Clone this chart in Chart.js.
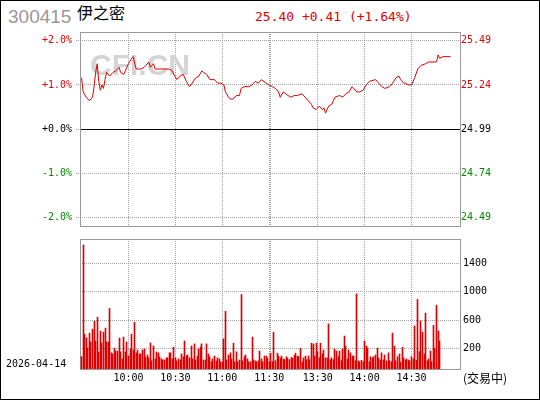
<!DOCTYPE html>
<html>
<head>
<meta charset="utf-8">
<script src="https://cdn.jsdelivr.net/npm/chart.js@4.4.1/dist/chart.umd.min.js"></script>
<style>
  body { margin: 0; background: #fff; }
  #wrap { position: relative; width: 540px; height: 400px; overflow: hidden; background: #fff; }
  #wrap canvas { position: absolute; left: 0; }
  .txt { position: absolute; white-space: nowrap; }
  #frame { position: absolute; left: 0; top: 0; width: 540px; height: 400px; box-sizing: border-box; border: 1px solid #000; pointer-events: none; }
</style>
</head>
<body>
<div id="wrap">
  <div class="txt" style="left:8px;top:7px;font:19px/19px 'Liberation Sans';color:#999">300415</div>
  <div class="txt" style="left:77px;top:4px;font:16px/16px 'Noto Sans CJK SC';color:#000">伊之密</div>
  <div class="txt" style="left:255px;top:10px;font:13px/13px 'DejaVu Sans Mono';color:#e00000">25.40 +0.41 (+1.64%)</div>
  <canvas id="priceChart" width="540" height="236" style="top:0"></canvas>
  <canvas id="volChart" width="540" height="170" style="top:230px"></canvas>
  <div class="txt" style="left:6px;top:359px;font:10px/10px 'DejaVu Sans Mono';color:#000">2026-04-14</div>
  <div class="txt" style="left:463px;top:372px;font:12px/12px 'Noto Sans CJK SC';color:#000">(交易中)</div>
  <div id="frame"></div>
</div>
<script>
// previous close and intraday data (x = minute index from 9:30, 11:30 -> 120, 13:00 -> 121)
const prevClose = 24.99;
const priceIdx = [0, 1, 3, 5, 7, 8, 9, 10, 11, 12,
  13, 14, 15, 16, 18, 20, 22, 24, 25, 27,
  29, 30, 32, 33, 34, 35, 38, 40, 41, 43,
  44, 46, 47, 50, 52, 54, 56, 58, 59, 61,
  63, 65, 67, 69, 70, 73, 75, 77, 78, 80,
  82, 85, 87, 89, 91, 92, 94, 95, 97, 99,
  101, 102, 104, 107, 109, 111, 113, 115, 118, 120,
  122, 124, 126, 127, 129, 132, 134, 136, 138, 141,
  143, 145, 147, 148, 150, 152, 154, 155, 156, 158,
  160, 162, 165, 167, 169, 171, 173, 176, 178, 180,
  182, 184, 188, 190, 192, 194, 197, 199, 201, 203,
  204, 206, 207, 209, 211, 213, 215, 217, 220, 222,
  224, 227, 228, 229, 231, 236];
const prices = [25.28, 25.20, 25.17, 25.15, 25.17, 25.23, 25.31, 25.36, 25.26, 25.21,
  25.24, 25.22, 25.27, 25.31, 25.29, 25.31, 25.32, 25.34, 25.31, 25.30,
  25.34, 25.36, 25.39, 25.40, 25.36, 25.33, 25.33, 25.34, 25.35, 25.37,
  25.34, 25.36, 25.33, 25.33, 25.33, 25.33, 25.33, 25.32, 25.30, 25.27,
  25.29, 25.30, 25.26, 25.23, 25.24, 25.28, 25.29, 25.32, 25.31, 25.30,
  25.27, 25.27, 25.25, 25.25, 25.24, 25.20, 25.17, 25.16, 25.16, 25.18,
  25.18, 25.22, 25.23, 25.23, 25.24, 25.26, 25.25, 25.27, 25.25, 25.24,
  25.23, 25.22, 25.20, 25.17, 25.20, 25.18, 25.17, 25.18, 25.18, 25.19,
  25.17, 25.15, 25.13, 25.11, 25.10, 25.12, 25.10, 25.11, 25.08, 25.12,
  25.13, 25.17, 25.18, 25.17, 25.19, 25.20, 25.23, 25.20, 25.20, 25.21,
  25.24, 25.26, 25.27, 25.25, 25.23, 25.22, 25.23, 25.25, 25.28, 25.29,
  25.27, 25.25, 25.25, 25.24, 25.24, 25.28, 25.33, 25.35, 25.36, 25.37,
  25.37, 25.37, 25.41, 25.39, 25.40, 25.40];
// volume per minute, starting at index 0
const volumes = [93, 1653, 407, 356, 212, 420, 296, 476, 587, 310,
  642, 157, 448, 282, 434, 490, 296, 296, 767, 145,
  130, 212, 170, 170, 351, 157, 60, 365, 157, 296,
  102, 198, 407, 185, 572, 145, 185, 130, 130, 185,
  198, 88, 115, 74, 282, 33, 240, 60, 157, 145,
  88, 60, 46, 46, 75, 75, 145, 145, 60, 225,
  75, 33, 60, 45, 130, 90, 310, 100, 115, 75,
  240, 60, 270, 45, 100, 200, 225, 270, 45, 45,
  270, 130, 90, 20, 60, 100, 33, 75, 60, 20,
  15, 340, 725, 45, 115, 145, 60, 280, 20, 160,
  20, 45, 960, 33, 90, 115, 60, 20, 20, 365,
  45, 33, 20, 33, 170, 60, 20, 100, 100, 70,
  20, 140, 20, 430, 35, 140, 100, 70, 100, 60,
  50, 90, 70, 50, 80, 70, 110, 140, 100, 90,
  210, 20, 75, 100, 50, 100, 50, 280, 270, 100,
  280, 160, 75, 280, 130, 185, 75, 75, 550, 50,
  75, 50, 200, 170, 90, 170, 35, 200, 380, 240,
  60, 185, 145, 100, 102, 35, 970, 33, 20, 40,
  20, 310, 240, 210, 20, 90, 75, 90, 115, 210,
  75, 45, 145, 45, 115, 33, 145, 33, 20, 420,
  240, 33, 90, 130, 15, 225, 75, 45, 60, 45,
  33, 90, 60, 520, 40, 890, 160, 590, 435, 130,
  700, 33, 60, 170, 20, 530, 210, 810, 450, 310];

const gridIdx = [30, 60, 90, 120, 121, 151, 181, 211];
const timeIdx = [30, 60, 90, 120, 151, 181, 211];
const timeLabels = ['10:00', '10:30', '11:00', '11:30', '13:30', '14:00', '14:30'];
const pctTicks = [-2, -1, 0, 1, 2];
const pctRange = 2.2;
const volTicks = [200, 600, 1000, 1400];
const volMin = -81;
const volMax = 1736;

const RED = '#e00000';
const GREEN = '#008800';
const GRID = '#a0a0a0';

Chart.defaults.font.family = "'DejaVu Sans Mono', monospace";
Chart.defaults.font.size = 10;

function signColor(v) {
  return v > 0 ? RED : (v < 0 ? GREEN : '#000');
}

// box, watermark, zero line, and pixel-snapped volume bars
const panelPlugin = {
  id: 'panel',
  beforeDatasetsDraw(chart, args, opts) {
    const ctx = chart.ctx;
    const a = chart.chartArea;
    ctx.save();
    if (opts.watermark) {
      ctx.font = "bold 30px 'Liberation Sans'";
      ctx.fillStyle = '#d4d4d4';
      ctx.fillText(opts.watermark, a.left + 10, a.top + 43);
    }
    if (opts.zeroAxis) {
      const y = Math.round(chart.scales[opts.zeroAxis].getPixelForValue(0)) + 0.5;
      ctx.strokeStyle = '#000';
      ctx.lineWidth = 1;
      ctx.beginPath();
      ctx.moveTo(a.left, y);
      ctx.lineTo(a.right, y);
      ctx.stroke();
    }
    ctx.strokeStyle = '#999';
    ctx.lineWidth = 1;
    ctx.strokeRect(Math.round(a.left) + 0.5, Math.round(a.top) + 0.5,
      Math.round(a.right - a.left), Math.round(a.bottom - a.top));
    ctx.restore();
    if (opts.snapBars) {
      chart.getDatasetMeta(0).data.forEach(el => { el.x = Math.floor(el.x) + 0.5; });
    }
  }
};

new Chart(document.getElementById('priceChart'), {
  type: 'line',
  data: {
    datasets: [{
      data: priceIdx.map((x, i) => ({ x: x, y: prices[i] })),
      borderColor: '#dd0000',
      borderWidth: 1,
      pointRadius: 0,
      tension: 0,
      yAxisID: 'price'
    }]
  },
  options: {
    responsive: false,
    animation: false,
    layout: { padding: { top: 32, bottom: 8, left: 0, right: 0 } },
    plugins: {
      legend: { display: false },
      tooltip: { enabled: false },
      panel: { watermark: 'CFI.CN', zeroAxis: 'pct' }
    },
    scales: {
      x: {
        type: 'linear', min: -1, max: 242,
        afterBuildTicks: s => { s.ticks = gridIdx.map(v => ({ value: v })); },
        ticks: { display: false },
        grid: { color: GRID, drawTicks: false },
        border: { display: false, dash: [1, 1] },
        afterFit: s => { s.height = 0; }
      },
      pct: {
        position: 'left', min: -pctRange, max: pctRange,
        afterBuildTicks: s => { s.ticks = pctTicks.map(v => ({ value: v })); },
        ticks: {
          padding: 4,
          color: c => signColor(pctTicks[c.index]),
          callback: v => (v >= 0 ? '+' : '') + v.toFixed(1) + '%'
        },
        grid: { color: GRID, tickLength: 4, tickColor: GRID, tickBorderDash: [1, 1] },
        border: { display: false, dash: [1, 1] },
        afterFit: s => { s.width = 80; }
      },
      price: {
        position: 'right',
        min: prevClose * (1 - pctRange / 100), max: prevClose * (1 + pctRange / 100),
        afterBuildTicks: s => { s.ticks = pctTicks.map(k => ({ value: prevClose * (1 + k / 100) })); },
        ticks: {
          padding: 1,
          color: c => signColor(pctTicks[c.index]),
          callback: v => v.toFixed(2)
        },
        grid: { display: false, drawTicks: false },
        border: { display: false },
        afterFit: s => { s.width = 80; }
      }
    }
  },
  plugins: [panelPlugin]
});

new Chart(document.getElementById('volChart'), {
  type: 'bar',
  data: {
    datasets: [{
      data: volumes.map((y, x) => ({ x: x, y: y })),
      backgroundColor: '#dd0000',
      barThickness: 1,
      base: volMin
    }]
  },
  options: {
    responsive: false,
    animation: false,
    layout: { padding: { top: 8, bottom: 11, left: 80, right: 0 } },
    plugins: {
      legend: { display: false },
      tooltip: { enabled: false },
      panel: { snapBars: true }
    },
    scales: {
      x: {
        type: 'linear', min: -1, max: 242, offset: false,
        afterBuildTicks: s => { s.ticks = gridIdx.map(v => ({ value: v })); },
        ticks: {
          autoSkip: false, maxRotation: 0, padding: 3, color: '#000',
          callback: v => { const k = timeIdx.indexOf(v); return k < 0 ? '' : timeLabels[k]; }
        },
        grid: { color: GRID, drawTicks: false, offset: false },
        border: { display: false, dash: [1, 1] },
        afterFit: s => { s.height = 20; }
      },
      y: {
        position: 'right', min: volMin, max: volMax,
        afterBuildTicks: s => { s.ticks = volTicks.map(v => ({ value: v })); },
        ticks: { padding: 3, color: '#000', callback: v => String(v) },
        grid: { color: GRID, drawTicks: false },
        border: { display: false, dash: [1, 1] },
        afterFit: s => { s.width = 80; }
      }
    }
  },
  plugins: [panelPlugin]
});
</script>
</body>
</html>
